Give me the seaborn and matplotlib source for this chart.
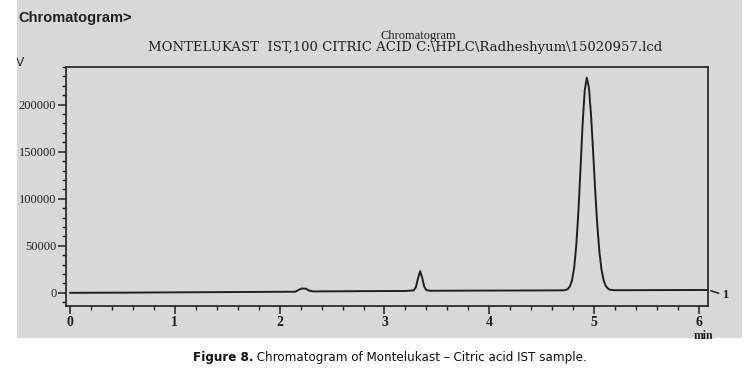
import matplotlib
matplotlib.use("Agg")
import matplotlib.pyplot as plt
import seaborn as sns
from matplotlib import font_manager as fm
from matplotlib.patches import Rectangle
from matplotlib.ticker import MultipleLocator

# values (time in min, signal in uV)
time_min = [0.0, 0.5, 1.0, 1.5, 2.0, 2.15, 2.18, 2.21, 2.25, 2.28, 2.32, 2.5, 2.8,
            3.0, 3.2, 3.28, 3.30, 3.32, 3.34, 3.36, 3.38, 3.40, 3.44, 3.7, 4.0,
            4.4, 4.65, 4.71, 4.73, 4.75, 4.77, 4.79, 4.81, 4.83, 4.85, 4.87, 4.89,
            4.91, 4.93, 4.95, 4.97, 4.99, 5.01, 5.03, 5.05, 5.07, 5.09, 5.11, 5.13,
            5.15, 5.19, 5.3, 5.6, 6.0, 6.086]
signal_uv = [0, 200, 500, 800, 1100, 1200, 3000, 4600, 4400, 2400, 1500, 1600, 1800,
             1900, 2000, 2600, 6200, 15600, 23000, 15800, 6400, 2800, 2200, 2300, 2400,
             2500, 2600, 2700, 3100, 4100, 7000, 13700, 27200, 51200, 86900, 132600, 179300,
             215000, 228600, 218200, 189500, 150200, 108600, 71800, 43700, 24700, 13400, 7500, 4600,
             3300, 2800, 2800, 2900, 3000, 3000]

y_ticks = [0, 50000, 100000, 150000, 200000]
x_ticks = [0, 1, 2, 3, 4, 5, 6]

ink = "#1f1f1f"
paper = "#d8d8d5"

sns.set_style("ticks")
plt.rcParams["font.family"] = ["Liberation Serif", "DejaVu Serif"]


def narrow_font(bold):
    # condensed sans face for the caption, if one is installed
    prefs = ["liberationsansnarrow", "dejavusanscondensed", "notosans-condensed",
             "robotocondensed", "opensans-cond", "condensed", "narrow", "cond"]
    best = None
    for f in fm.fontManager.ttflist:
        p = f.fname.lower().replace(" ", "").split("/")[-1]
        n = f.name.lower()
        if "serif" in n or "mono" in n or "italic" in p or "oblique" in p:
            continue
        if not ("narrow" in p or "cond" in p):
            continue
        if "semicond" in p or "extracond" in p:
            continue
        isbold = "bold" in p and "semibold" not in p and "extrabold" not in p
        if isbold != bold:
            continue
        if not bold and any(k in p for k in ["light", "thin", "medium", "black", "semibold", "extrabold"]):
            continue
        rank = next((i for i, k in enumerate(prefs) if k in p), len(prefs))
        if best is None or rank < best[0]:
            best = (rank, f.fname)
    if best:
        return fm.FontProperties(fname=best[1])
    return fm.FontProperties(family=["Roboto", "DejaVu Sans"],
                             weight="bold" if bold else "normal")


fig = plt.figure(figsize=(7.54, 3.76), dpi=100)
fig.patch.set_facecolor("white")
r = fig.canvas.get_renderer()

# photographed printout background
fig.add_artist(Rectangle((17 / 754, 1 - 338 / 376), 725 / 754, 338 / 376,
                         transform=fig.transFigure, facecolor=paper,
                         edgecolor="none", zorder=-10))

ax = fig.add_axes([66 / 754, 1 - 306 / 376, 642 / 754, 239 / 376])
ax.set_facecolor("none")

sns.lineplot(x=time_min, y=signal_uv, ax=ax, color=ink, linewidth=1.4,
             sort=False, estimator=None)

ax.set_xlim(-0.038, 6.086)
ax.set_ylim(-14000, 240000)
ax.set_xticks(x_ticks)
ax.set_xticklabels([str(t) for t in x_ticks], fontweight="bold", fontsize=10)
ax.set_yticks(y_ticks)
ax.set_yticklabels([str(v) for v in y_ticks], fontsize=9)
ax.xaxis.set_minor_locator(MultipleLocator(0.2))
ax.yaxis.set_minor_locator(MultipleLocator(10000))
ax.tick_params(which="major", direction="out", length=6, width=1.1, color=ink,
               labelcolor=ink, pad=1)
ax.tick_params(which="minor", direction="out", length=3, width=1.0, color=ink)
for s in ax.spines.values():
    s.set_visible(True)
    s.set_color(ink)
    s.set_linewidth(1.2)
ax.set_xlabel("")
ax.set_ylabel("")

# detector channel mark leaving the right frame
ax.annotate("1", xy=(1.0, signal_uv[-1]), xycoords=("axes fraction", "data"),
            xytext=(1.022, -2500), textcoords=("axes fraction", "data"),
            fontsize=9, fontweight="bold", color=ink, va="center",
            arrowprops=dict(arrowstyle="-", color=ink, lw=1.1, shrinkA=0, shrinkB=2))

ax.annotate("min", xy=(6.0, 0), xycoords=("data", "axes fraction"), xytext=(3, -17),
            textcoords="offset points", ha="center", va="top", fontsize=8.5,
            fontweight="bold", color=ink)

fig.text(24 / 754, 1 - 63 / 376, "uV", fontsize=9, color=ink, ha="right", va="center",
         family=["Liberation Sans", "DejaVu Sans"])
fig.text(18 / 754, 1 - 18 / 376, "Chromatogram>", fontsize=10.5, fontweight="bold",
         color=ink, ha="left", va="center", family=["Liberation Sans", "DejaVu Sans"])
fig.text(418 / 754, 1 - 36 / 376, "Chromatogram", fontsize=9, color=ink,
         ha="center", va="center")
sub = fig.text(405 / 754, 1 - 48 / 376,
               "MONTELUKAST  IST,100 CITRIC ACID C:\\HPLC\\Radheshyum\\15020957.lcd",
               fontsize=9, color=ink, ha="center", va="center", family="DejaVu Serif")
sub.set_fontsize(min(9 * 514 / sub.get_window_extent(r).width, 9.5))

# left edge of the photo is cropped
fig.add_artist(Rectangle((0, 0), 17 / 754, 1, transform=fig.transFigure,
                         facecolor="white", edgecolor="none", zorder=20))

# caption: bold lead + regular text, centred together
t1 = fig.text(0, 1 - 357 / 376, "Figure 8.", fontproperties=narrow_font(True),
              ha="left", va="center", color="#111111")
t2 = fig.text(0, 1 - 357 / 376, " Chromatogram of Montelukast \u2013 Citric acid IST sample.",
              fontproperties=narrow_font(False), ha="left", va="center", color="#111111")
t1.set_fontsize(12)
t2.set_fontsize(12)
w = t1.get_window_extent(r).width + t2.get_window_extent(r).width
size = max(min(12 * 365 / w, 12), 9.5)
t1.set_fontsize(size)
t2.set_fontsize(size)
w1 = t1.get_window_extent(r).width
w2 = t2.get_window_extent(r).width
x0 = 390 - (w1 + w2) / 2
t1.set_x(x0 / 754)
t2.set_x((x0 + w1) / 754)

fig.savefig("out.png", dpi=100)
